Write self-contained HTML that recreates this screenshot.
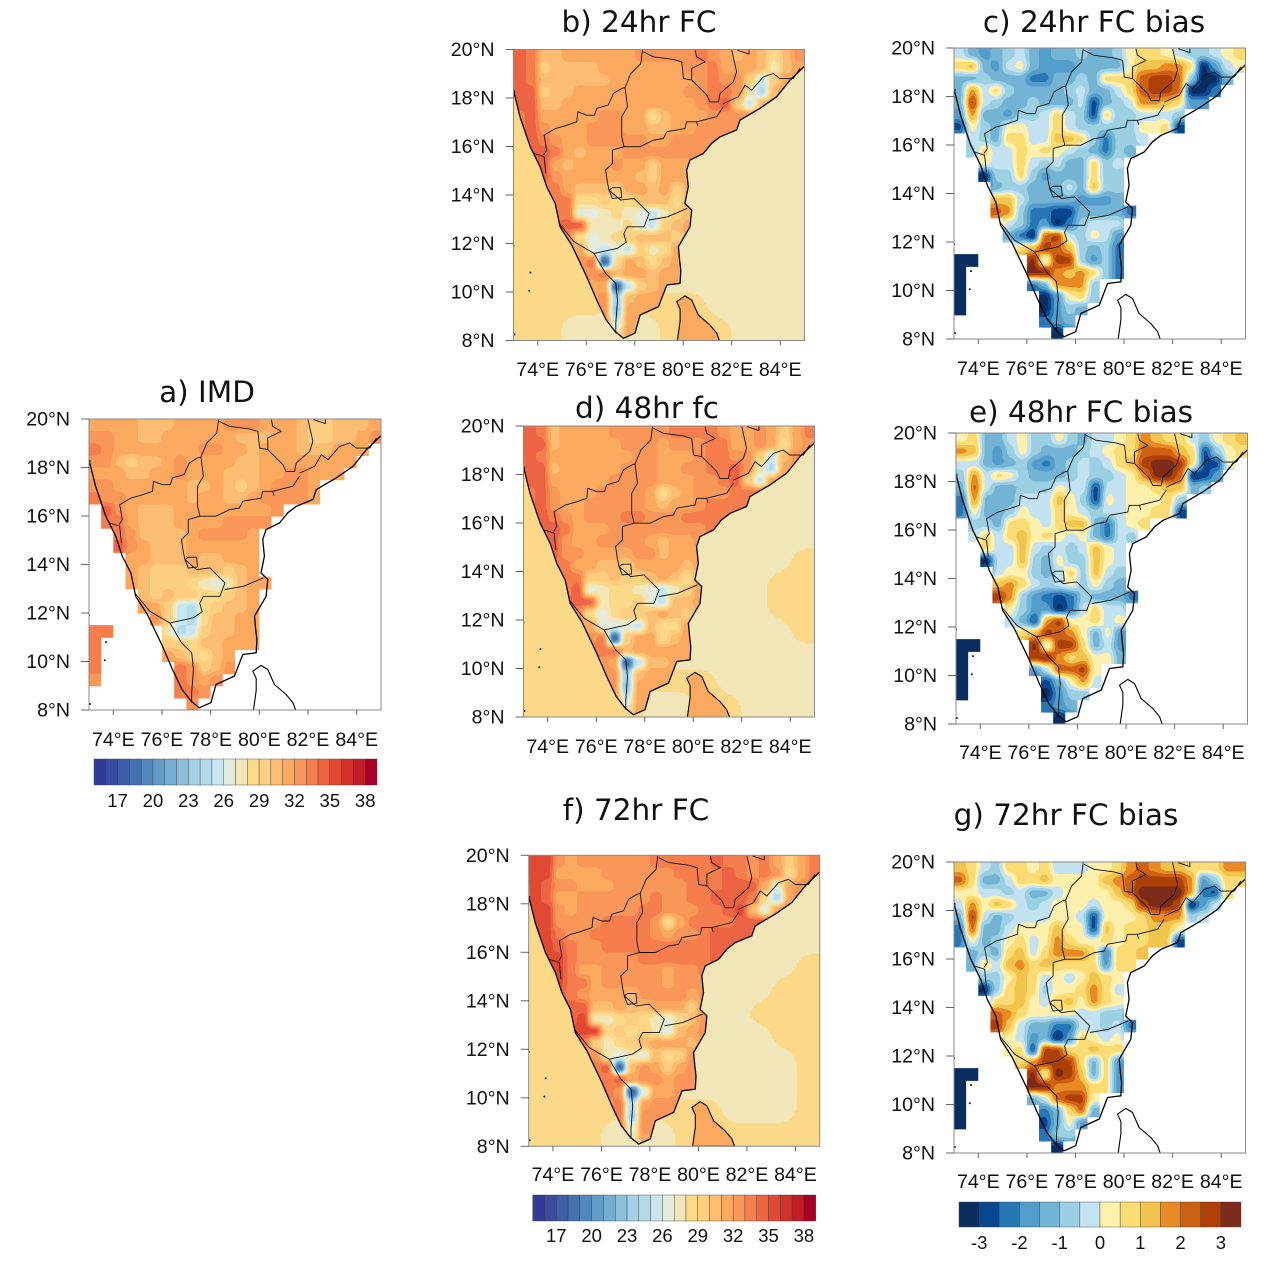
<!DOCTYPE html>
<html lang="en">
<head>
<meta charset="utf-8">
<title>South India temperature maps</title>
<style>
html,body{margin:0;padding:0;background:#fff;width:1280px;height:1265px;overflow:hidden}
svg{display:block}
text{font-family:"Liberation Sans",sans-serif;fill:#111}
.title{font-family:"DejaVu Sans",sans-serif;font-size:29.5px;text-anchor:middle}
</style>
</head>
<body>
<svg id="figure" xmlns="http://www.w3.org/2000/svg" width="1280" height="1265" viewBox="0 0 1280 1265"></svg>
<script>
// ---------- tick labels ----------
const latTicks = [8,10,12,14,16,18,20];
const lonTicks = [74,76,78,80,82,84];
const tempTicks = [17,20,23,26,29,32,35,38];
const biasTicks = [-3,-2,-1,0,1,2,3];

// ---------- colour bars ----------
const tempColors = ["#323a97","#3a4ba0","#3e5ea9","#4672b0","#5288bd","#639cc6","#74add1","#8cbfda","#a3d1e5","#b4dbea","#c8e7f1","#e3ebdc","#f1e6b8","#fdd98a","#fdcf80","#fcbe72","#fba95f","#f99858","#f67f4d","#ee6544","#e34a33","#d3302a","#c11d27","#a80026"];
const biasColors = ["#0a2e5f","#08478f","#2777b4","#529dcc","#73b3d4","#9bcfe3","#c3e3f2","#fef0ad","#fcdc74","#f2c44e","#e98a25","#cd6112","#ae4008","#7d2b1b"];

// ---------- temperature (deg C, lower contour level), 0.5 degree cells, north to south ----------
const imdGrid = [
[31,31,31,31,30,30,30,31,31,31,31,32,32,32,31,31,31,30,29,29,30,30,30,31],
[32,32,31,31,30,30,31,31,31,31,31,31,30,30,30,31,31,30,29,29,30,30,31,32],
[33,32,31,31,31,31,31,31,31,32,32,31,31,30,31,31,31,30,30,30,31,31,31],
[32,32,30,29,30,30,31,32,31,31,31,31,30,30,31,31,31,31,31,31,31,31],
[31,31,31,30,30,31,31,32,31,31,31,30,30,30,31,31,32,32,31,31,31],
[32,32,31,31,31,31,31,31,30,30,31,30,29,30,31,32,32,32,31],
[33,32,32,31,31,31,31,31,30,31,31,30,30,31,32,32,32,32,31],
[,34,32,31,30,30,30,31,31,31,31,31,31,31,31,32],
[,33,33,31,30,30,30,31,31,31,31,32,32,32,32],
[,,33,32,30,30,30,30,31,32,32,32,32,31],
[,,34,32,31,30,30,30,31,31,31,31,31,31],
[,,,31,31,30,30,30,31,30,30,31,31,31],
[,,,31,30,29,29,29,30,30,30,29,30,31],
[,,,31,30,29,29,29,28,27,26,27,30,31,31],
[,,,,30,29,30,29,29,28,28,29,30,31],
[,,,,31,31,29,25,24,28,29,30,30,31],
[,,,,,32,29,25,24,28,30,30,31,31],
[33,33,,,,,27,24,25,29,30,30,31,31],
[33,,,,,,29,29,28,30,30,31,31,31],
[33,,,,,,31,30,28,28,30,31],
[33,,,,,,,33,32,29,30,32],
[32,,,,,,,33,32,31,32],
[,,,,,,,33,33,32],
[,,,,,,,,32]
];
const fc24Grid = [
[34,33,30,30,31,31,31,31,31,31,32,32,32,32,32,33,32,31,30,31,30,28,30,32],
[34,33,29,30,30,30,30,31,31,31,31,31,31,31,32,32,33,31,31,31,30,27,30,31],
[34,33,30,30,30,30,30,30,31,31,31,31,31,31,31,32,33,32,32,29,25,29,31,31],
[34,34,29,30,30,31,31,31,31,31,31,31,31,31,32,32,33,33,32,27,24,30,32],
[34,34,30,30,31,31,31,31,31,31,31,31,31,31,31,32,33,34,29,25,30,31],
[33,34,31,31,31,31,31,32,32,31,31,28,30,31,31,31,32,32,32,32],
[33,34,32,31,31,31,32,32,32,31,31,30,30,31,31,32,32,32,32],
[,34,33,32,31,31,32,32,32,32,32,31,31,32,32,32,32,32],
[,34,34,33,31,30,31,31,31,32,32,32,32,32,32,32],
[,34,34,31,30,31,31,31,32,31,31,29,31,31,31],
[,,34,32,31,31,31,31,31,31,30,29,31,31,31],
[,,33,33,31,30,30,30,29,31,31,30,31,29,31],
[,,,33,33,28,28,29,28,28,30,30,30,28,31],
[,,,33,33,26,26,27,28,27,26,25,27,29,30],
[,,,,34,34,27,27,27,28,26,25,29,30,31],
[,,,,32,28,26,27,28,29,30,30,30,29,31],
[,,,,,31,26,25,26,25,29,27,28,31,31],
[,,,,,,33,17,28,31,30,28,30,31,31],
[,,,,,,32,33,30,31,31,30,31,31],
[,,,,,,31,31,17,25,29,30,31,31],
[,,,,,,31,32,23,30,31,31,31],
[,,,,,,,32,22,31,31,31],
[,,,,,,,32,25,31,31,31],
[,,,,,,,,27,31,31]
];
const fc48Grid = [
[34,33,30,31,31,31,31,32,32,32,32,32,33,33,33,33,32,31,31,32,31,29,31,33],
[34,34,30,31,31,31,31,31,32,32,32,31,32,32,32,33,33,31,31,32,31,28,31,32],
[34,33,31,31,31,31,31,31,31,32,32,31,31,31,32,33,33,32,32,29,25,30,32,32],
[34,34,30,31,31,31,31,31,32,32,32,31,31,32,32,33,33,34,32,27,24,31,32],
[34,34,31,31,31,31,31,32,32,32,32,31,31,31,32,32,33,34,29,25,31,32],
[33,34,32,31,31,31,32,32,32,32,31,28,30,31,32,32,32,33,33,33],
[33,34,32,31,31,32,32,32,32,32,31,30,31,31,32,33,33,33,33],
[,34,33,32,31,32,32,32,33,33,32,32,32,33,33,33,33,33],
[,34,34,33,31,31,31,32,32,32,32,32,32,32,32,33],
[,34,34,32,31,31,32,32,32,32,31,30,31,31,32],
[,,34,32,32,31,31,31,31,32,32,30,31,31,31],
[,,33,33,31,31,30,30,29,31,31,31,31,30,31],
[,,,33,33,29,29,30,29,29,30,31,30,28,31],
[,,,33,34,26,27,28,28,27,26,25,27,29,31],
[,,,,34,34,27,28,28,29,26,25,30,30,31],
[,,,,32,28,26,28,29,29,30,31,30,29,31],
[,,,,,31,26,26,26,25,30,28,28,31,31],
[,,,,,,33,17,29,31,31,28,30,31,31],
[,,,,,,33,33,30,31,31,31,31,31],
[,,,,,,32,31,17,25,30,30,31,31],
[,,,,,,32,32,23,30,31,31,31],
[,,,,,,,32,22,31,31,31],
[,,,,,,,32,25,31,31,31],
[,,,,,,,,27,31,31]
];
const fc72Grid = [
[35,35,32,31,32,32,32,32,32,32,33,33,33,33,33,34,33,33,32,33,31,29,31,33],
[35,35,31,31,31,31,32,32,32,32,32,32,33,33,33,33,34,33,32,33,32,28,31,33],
[35,34,32,32,31,31,31,32,32,32,32,32,32,33,33,33,34,34,34,31,26,31,32,33],
[35,34,31,31,32,32,32,32,32,32,33,32,32,33,33,34,34,34,33,28,24,31,33],
[35,35,32,31,32,32,32,32,32,33,33,32,32,32,33,33,34,35,30,26,31,33],
[35,35,32,32,32,32,33,33,33,33,32,28,31,33,33,33,33,34,34,34],
[35,35,33,32,32,33,33,33,33,33,32,31,32,32,33,34,34,34,34],
[,35,34,33,32,32,33,33,33,33,33,33,33,33,33,34,34,34],
[,35,35,33,32,32,32,32,32,33,33,33,33,33,33,34],
[,35,35,33,31,31,32,32,32,32,32,31,32,32,33],
[,,35,33,33,31,32,32,32,32,32,31,32,32,32],
[,,34,33,32,31,31,31,30,32,32,32,32,31,32],
[,,,34,34,30,30,31,30,30,31,31,31,29,32],
[,,,34,35,27,27,28,29,28,27,26,28,30,32],
[,,,,35,35,28,29,28,29,27,26,30,31,32],
[,,,,33,29,27,28,29,30,31,31,31,30,32],
[,,,,,32,27,26,27,26,30,28,29,32,32],
[,,,,,,34,17,30,32,31,29,31,32,32],
[,,,,,,33,34,31,32,32,31,32,32],
[,,,,,,33,32,17,26,31,31,32,32],
[,,,,,,32,33,24,31,32,32,32],
[,,,,,,,33,23,32,32,32],
[,,,,,,,33,26,32,32,31],
[,,,,,,,,27,31,31]
];

// ---------- sea surface temperature (deg C, lower contour level), 1 degree cells ----------
const fc24Sea = [
[28,28,28,28,27,27,27,27,27,27,27,27],[28,28,28,28,27,27,27,27,27,27,27,27],
[28,28,28,28,27,27,27,27,27,27,27,27],[28,28,28,28,27,27,27,27,27,27,27,27],
[28,28,28,28,27,27,27,27,27,27,27,27],[28,28,28,28,27,27,27,27,27,27,27,27],
[28,28,28,28,27,27,27,27,27,27,27,27],[28,28,28,28,27,27,27,27,27,27,27,27],
[28,28,28,28,27,27,27,27,27,27,27,27],[28,28,28,28,27,27,27,27,27,27,27,27],
[28,28,28,28,27,28,28,28,27,27,27,27],[28,28,27,27,27,27,28,28,28,27,27,27]
];
const fc48Sea = [
[28,28,28,28,27,27,27,27,27,27,27,27],[28,28,28,28,27,27,27,27,27,27,27,27],
[28,28,28,28,27,27,27,27,27,27,27,27],[28,28,28,28,27,27,27,27,27,27,27,27],
[28,28,28,28,27,27,27,27,27,27,27,27],[28,28,28,28,27,27,27,27,27,27,27,28],
[28,28,28,28,27,27,27,27,27,27,28,28],[28,28,28,28,27,27,27,27,27,27,28,28],
[28,28,28,28,27,27,27,27,27,27,27,28],[28,28,28,28,27,27,27,27,27,27,27,27],
[28,28,28,28,27,28,28,28,27,27,27,27],[28,28,28,28,28,27,27,28,28,27,27,27]
];
const fc72Sea = [
[28,28,28,28,27,27,27,27,27,27,27,27],[28,28,28,28,27,27,27,27,27,27,27,27],
[28,28,28,28,27,27,27,27,27,27,27,27],[28,28,28,28,27,27,27,27,27,27,27,27],
[28,28,28,28,27,27,27,27,27,27,27,28],[28,28,28,28,27,27,27,27,27,27,28,28],
[28,28,28,28,27,27,27,27,27,28,28,28],[28,28,28,28,27,27,27,27,27,27,28,28],
[28,28,28,28,27,27,27,27,27,27,27,28],[28,28,28,28,27,27,27,27,27,27,27,28],
[28,28,28,28,27,28,28,28,27,27,27,28],[28,28,28,27,27,27,28,28,28,28,28,28]
];
const sriLankaTemps = [31,31,31];

// ---------- bias (units of 0.5 deg C, lower contour level), 0.5 degree cells, north to south ----------
const bias24Grid = [
[-1,-3,-4,-3,-2,-1,-3,-4,-3,-3,-2,-3,-3,-2,0,1,1,0,-1,-2,-2,-1,0,1],
[1,2,-3,-4,-1,0,-3,-4,-4,-4,-3,-3,-3,-3,0,2,2,3,3,1,-7,-4,-1,0],
[-3,-3,-2,-3,-3,-3,-5,-5,-3,-3,-2,-3,1,1,1,4,5,5,4,-2,-7,-7,-3],
[-3,3,-1,1,-2,-3,-3,-3,-3,-2,-1,-3,-3,-1,1,4,5,5,4,-7,-7,-5],
[-3,5,-1,-2,-3,-3,-2,-3,-3,-3,-1,-6,-3,-2,-1,3,3,2,1,-4,-4],
[-4,3,-3,-3,-4,-2,-2,-1,1,-1,-2,-6,1,-2,-2,-1,-1,-1,-2],
[-6,0,-2,-3,0,0,-1,-1,1,-1,-2,-2,-2,-2,-2,0,0,1,-6],
[,-1,-2,-3,1,1,-1,-1,2,2,1,-2,-5,-2,-2,-1],
[,-2,1,-1,-1,1,0,1,0,-1,-2,-3,-5,-2,-3],
[,,0,-1,-1,1,-1,-2,-1,-3,-3,1,-2,-1],
[,,-7,-2,-2,1,-2,-4,-3,-3,-3,1,-2,-2],
[,,,-3,-2,-2,-3,-3,-3,-1,-3,2,-2,-2],
[,,,2,2,-1,-3,-3,-3,-3,-4,-4,-4,-3],
[,,,4,3,-2,-5,-5,-6,-6,-3,-3,-3,-3,-5],
[,,,,-1,-2,-5,-4,-7,-5,-2,-1,-1,-1],
[,,,,-3,-5,-7,4,5,-1,-2,0,-1,-4],
[,,,,,1,2,5,4,2,-2,-3,-2,-5],
[-7,-7,,,,,6,-1,5,5,-2,-4,-2,-5],
[-7,,,,,,6,6,3,2,3,1,-2,-5],
[-7,,,,,,-5,-3,3,3,3,-2],
[-7,,,,,,,-7,-4,0,1,-2],
[-7,,,,,,,-7,-4,-2,-3],
[,,,,,,,-5,-4,-3],
[,,,,,,,,-7]
];
const bias48Grid = [
[0,1,-3,-3,-1,0,-2,-2,0,-2,-3,-1,-1,0,1,3,2,1,1,-1,-2,0,1,2],
[3,2,-3,-4,-2,0,-2,-3,-3,-3,-2,-1,0,1,1,4,4,4,2,1,-6,-2,0,1],
[-1,-1,-3,-4,-3,-2,-4,-5,-3,-2,-1,-2,-1,1,2,5,6,6,5,1,-6,-6,0],
[-2,3,-1,1,0,-2,-3,-3,-3,-2,-1,-2,-2,-1,0,3,6,6,4,-7,-6,-4],
[-3,4,-1,-3,-3,-2,-2,-2,0,-1,-1,-6,-1,-1,0,0,1,2,2,-3,-2],
[-5,3,-3,-3,-3,-1,-1,-1,2,0,-2,-6,0,-1,0,0,0,1,-2],
[-5,0,-3,-3,-2,0,-1,-1,1,0,-1,-2,-1,-1,0,0,1,1,-6],
[,-2,-2,-3,1,1,0,-1,1,2,2,-3,-5,-1,0,1],
[,-1,1,-1,1,2,0,1,0,-1,0,-3,-5,-1,-2],
[,,1,-1,-1,2,-1,-2,-1,-2,-1,2,0,-1],
[,,-7,-1,-1,2,-2,-3,0,-2,-2,2,0,-1],
[,,,-1,0,0,-2,-3,-1,1,-2,2,-1,-2],
[,,,2,3,1,-1,-2,-1,0,-2,0,-2,-3],
[,,,5,3,-2,-4,-5,-6,-5,-2,-3,-3,-3,-5],
[,,,,0,-2,-4,-4,-7,-5,-1,1,-1,-1],
[,,,,-1,-3,-6,3,5,0,0,1,-1,0],
[,,,,,1,2,5,4,3,0,-3,0,-4],
[-7,-7,,,,,6,-1,5,5,1,-3,-1,-4],
[-7,,,,,,5,6,3,1,2,0,0,-3],
[-7,,,,,,-4,-1,4,4,5,0],
[-7,,,,,,,-6,-3,0,3,-1],
[-7,,,,,,,-7,-4,-2,-2],
[,,,,,,,-5,-4,-3],
[,,,,,,,,-7]
];
const bias72Grid = [
[2,1,-1,-2,1,1,0,1,-1,-1,-1,0,0,1,3,4,3,2,2,1,1,1,3,3],
[4,1,-3,-3,-1,1,1,2,0,0,0,0,2,3,4,5,5,5,5,3,-4,-2,1,1],
[0,0,-1,-1,-2,-1,-3,-3,-1,0,0,0,0,2,4,6,6,6,6,3,-5,-6,1],
[-1,3,0,2,1,-1,-2,-1,0,0,0,-1,0,0,1,5,6,6,5,-7,-4,-1],
[-3,5,-1,-3,-2,-1,-1,-1,0,0,-1,-6,0,0,0,1,3,3,3,-2,-1],
[-5,4,-3,-3,-1,0,0,0,2,0,0,-6,2,0,1,1,2,2,0],
[-5,0,-3,-2,0,1,-1,0,3,1,0,0,1,0,1,1,2,2,-6],
[,-3,-2,-3,1,2,-1,1,3,3,3,1,-5,1,1,2],
[,-3,1,-1,2,3,1,2,1,1,1,1,-4,1,1],
[,,-2,-2,0,2,1,-1,0,-1,0,2,1,0],
[,,-7,-2,1,2,1,-2,0,0,1,3,1,-1],
[,,,1,1,2,0,-1,1,2,0,3,1,0],
[,,,4,3,1,0,0,0,0,-1,-1,-2,-2],
[,,,5,2,-1,-3,-3,-5,-5,-1,-1,-2,-1,-5],
[,,,,0,-1,-4,-3,-7,-4,1,0,-1,0],
[,,,,0,1,-6,5,5,1,1,2,1,1],
[,,,,,1,3,5,5,5,1,-3,1,-4],
[-7,-7,,,,,6,0,6,5,2,-3,1,-4],
[-7,,,,,,6,6,3,3,3,1,1,-4],
[-7,,,,,,-3,-1,4,5,5,0],
[-7,,,,,,,-5,-3,1,4,-3],
[-7,,,,,,,-6,-3,0,-4],
[,,,,,,,-5,-2,-2],
[,,,,,,,,-7]
];

// ---------- geography (lon, lat) ----------
const coastLine = [[73.03,18.32],[73.03,18.19],[73.27,17.23],[73.69,15.99],[74.1,15.16],[74.37,14.34],[74.72,13.65],[74.92,12.69],[75.4,11.94],[76.02,10.63],[76.43,9.67],[76.82,8.85],[77.19,8.37],[77.53,8.09],[78.01,8.3],[78.22,9.05],[78.98,9.4],[79.32,10.29],[79.87,10.36],[79.9,10.9],[79.85,11.32],[79.8,11.87],[80.28,12.69],[80.35,13.38],[80.07,13.65],[80.21,14.34],[80.14,15.03],[80.28,15.44],[80.83,15.71],[81.17,16.13],[81.52,16.4],[82.2,16.68],[82.34,17.09],[83.16,17.57],[83.85,18.05],[84.4,18.74],[85,19.31]];
const sriLanka = [[79.76,8],[79.87,8.8],[79.87,9.3],[79.73,9.6],[80.07,9.84],[80.35,9.67],[80.62,9.05],[81.1,8.64],[81.38,8.3],[81.49,8]];
const stateBorders = [
[[74.24,15.65],[74.37,15.85],[74.26,16.47],[74.72,16.74],[75.09,16.84],[75.61,17.02],[75.65,17.43],[76.02,17.29],[76.34,17.29],[76.43,17.57],[76.91,17.71],[77.12,18.19],[77.46,18.39],[77.6,18.43]],
[[77.6,18.43],[77.84,19.01],[78.25,19.42],[78.32,19.97]],
[[77.6,18.43],[77.7,17.64],[77.46,17.23],[77.46,16.4],[77.56,15.99],[77.08,15.85],[77.08,15.3],[76.8,15.03],[76.87,14.55],[76.94,14.2],[77.42,13.79],[77.97,13.86],[78.59,13.24],[78.38,12.69],[77.7,12.69],[77.55,12.4],[77.65,12.05],[77.29,11.8],[76.32,11.59],[76.8,10.77],[77.22,10.36],[77.29,9.67],[77.22,8.71],[77.22,8.3]],
[[77.53,15.99],[78.22,15.99],[78.77,16.26],[79.18,16.33],[79.32,16.61],[80.07,16.74],[80.14,17.02],[80.55,17.02],[80.6,16.85],[80.55,17.02],[81.38,17.23],[81.65,17.64]],
[[78.59,12.97],[79.35,13.1],[80.17,13.45]],
[[81.65,17.77],[82.27,18.05],[82.55,18.53],[82.82,18.32],[83.3,18.87],[83.71,19.01],[83.99,18.8],[84.54,18.8],[84.81,19.22]],
[[78.36,19.9],[78.77,19.7],[79.59,19.59],[79.94,19.49],[80.01,18.8],[80.35,18.74],[80.97,18.12],[81.1,17.84],[81.45,17.84],[81.52,18.19],[82.07,18.67],[82.2,19.08],[82,19.97]],
[[80.49,19.97],[80.55,19.7],[80.9,19.49],[80.35,19.22],[80.35,18.74]],
[[82.23,19.97],[82.71,19.81],[82.71,20]],
[[74.88,12.83],[75.5,12.07],[76.32,11.59]],
[[73.85,15.71],[74.26,15.58],[74.33,14.89]],
[[76.94,14.2],[77.08,14.3],[77.42,14.3],[77.46,13.9],[77.08,13.85],[76.94,14.2]]
];
const islands = [[73.7,10.8],[73.65,10.05],[73.04,8.25],[73,11.9]];

// ---------- panel layout ----------
const panels = [
 {key:"imd",title:"a) IMD",tx:207,ty:402,x:89,y:419,w:292,h:291,xl:746,grid:imdGrid,kind:"temp",mask:"cells"},
 {key:"fc24",title:"b) 24hr FC",tx:639,ty:32,x:513.5,y:49.5,w:291,h:291,xl:376,grid:fc24Grid,sea:fc24Sea,lanka:0,kind:"temp",mask:"coast"},
 {key:"bias24",title:"c) 24hr FC bias",tx:1094,ty:32,x:954,y:48,w:291.5,h:291,xl:375,grid:bias24Grid,kind:"bias",mask:"cells"},
 {key:"fc48",title:"d) 48hr fc",tx:647,ty:418,x:523.5,y:426,w:291,h:291,xl:753,grid:fc48Grid,sea:fc48Sea,lanka:1,kind:"temp",mask:"coast"},
 {key:"bias48",title:"e) 48hr FC bias",tx:1081,ty:422,x:956,y:433,w:291.5,h:291,xl:759,grid:bias48Grid,kind:"bias",mask:"cells"},
 {key:"fc72",title:"f) 72hr FC",tx:636,ty:820,x:528.7,y:855.3,w:291,h:291,xl:1181,grid:fc72Grid,sea:fc72Sea,lanka:2,kind:"temp",mask:"coast"},
 {key:"bias72",title:"g) 72hr FC bias",tx:1066,ty:825,x:954,y:862,w:291.5,h:291,xl:1188,grid:bias72Grid,kind:"bias",mask:"cells"}
];
const colorbars = [
 {key:"imd",kind:"temp",x:94,y:759,w:283,h:26,ly:807},
 {key:"fc72",kind:"temp",x:532.7,y:1195,w:283,h:26,ly:1242},
 {key:"bias72",kind:"bias",x:959,y:1202,w:282,h:25,ly:1249}
];

// ---------- scales ----------
const NS = "http://www.w3.org/2000/svg";
const svg = document.getElementById("figure");
function el(tag, attrs, parent){
  const e = document.createElementNS(NS, tag);
  for (const k in attrs) e.setAttribute(k, attrs[k]);
  (parent || svg).appendChild(e);
  return e;
}
const xOf = (p, lon) => p.x + (lon - 73) / 12 * p.w;
const yOf = (p, lat) => p.y + (20 - lat) / 12 * p.h;
const bandCount = kind => kind === "temp" ? tempColors.length : biasColors.length;
const bandOf = (kind, v) => kind === "temp" ? v - 15 : v + 7;
const grayOf = (kind, v) => {
  const g = Math.round((bandOf(kind, v) + 0.5) / bandCount(kind) * 255);
  return "rgb(" + g + "," + g + "," + g + ")";
};
const pathOf = (p, pts) => pts.map((q, i) => (i ? "L" : "M") + xOf(p, q[0]).toFixed(1) + " " + yOf(p, q[1]).toFixed(1)).join("");

// ---------- contour band filters: blur a value raster, then quantise to the palette ----------
const defs = el("defs", {});
function bandFilter(id, colors, blur){
  const f = el("filter", {id:id, x:"0", y:"0", width:"1", height:"1", "color-interpolation-filters":"sRGB"}, defs);
  el("feGaussianBlur", {stdDeviation:blur}, f);
  const ct = el("feComponentTransfer", {}, f);
  const chan = i => colors.map(c => (parseInt(c.substr(1 + i * 2, 2), 16) / 255).toFixed(3)).join(" ");
  el("feFuncR", {type:"discrete", tableValues:chan(0)}, ct);
  el("feFuncG", {type:"discrete", tableValues:chan(1)}, ct);
  el("feFuncB", {type:"discrete", tableValues:chan(2)}, ct);
}
bandFilter("bandTemp", tempColors, 3);
bandFilter("bandSea", tempColors, 9);
bandFilter("bandBias", biasColors, 3.5);

// Extend values into empty cells so the blur has something to work with at mask edges.
function filledCopy(grid, n){
  const out = [];
  for (let r = 0; r < n; r++){ out.push([]); for (let c = 0; c < n; c++){ const v = grid[r] ? grid[r][c] : undefined; out[r].push(v === undefined ? null : v); } }
  for (let pass = 0; pass < 60; pass++){
    let missing = 0;
    const snap = out.map(a => a.slice());
    for (let r = 0; r < n; r++) for (let c = 0; c < n; c++){
      if (snap[r][c] !== null) continue;
      let s = 0, k = 0;
      [[1,0],[-1,0],[0,1],[0,-1]].forEach(d => {
        const a = snap[r + d[0]], b = a ? a[c + d[1]] : undefined;
        if (b !== undefined && b !== null){ s += b; k++; }
      });
      if (k) out[r][c] = s / k; else missing++;
    }
    if (!missing) break;
  }
  return out;
}
function drawField(p, grid, n, kind, filterId, parent){
  const cw = p.w / n, ch = p.h / n, full = filledCopy(grid, n);
  const g = el("g", {filter:"url(#" + filterId + ")", "shape-rendering":"crispEdges"}, parent);
  for (let r = -2; r < n + 2; r++) for (let c = -2; c < n + 2; c++){
    const rr = Math.max(0, Math.min(n - 1, r)), cc = Math.max(0, Math.min(n - 1, c));
    const rect = el("rect", {x:(p.x + c * cw).toFixed(2), y:(p.y + r * ch).toFixed(2), width:(cw + .5).toFixed(2), height:(ch + .5).toFixed(2), fill:grayOf(kind, full[rr][cc])}, g);
    
    
  }
}

// ---------- panels ----------
panels.forEach(p => {
  const group = el("g", {});
  
  

  const title = el("text", {x:p.tx, y:p.ty, class:"title"}, group);
  title.textContent = p.title;
  
  

  const frameClip = el("clipPath", {id:"frame-" + p.key}, defs);
  el("rect", {x:p.x, y:p.y, width:p.w, height:p.h}, frameClip);
  const plot = el("g", {"clip-path":"url(#frame-" + p.key + ")"}, group);
  
  
  el("rect", {x:p.x, y:p.y, width:p.w, height:p.h, fill:"#fff"}, plot);

  if (p.sea) drawField(p, p.sea, 12, "temp", "bandSea", plot);

  const maskClip = el("clipPath", {id:"mask-" + p.key}, defs);
  if (p.mask === "coast"){
    el("path", {d:pathOf(p, [[73,20]].concat(coastLine, [[85,20]])) + "Z"}, maskClip);
  } else {
    const cw = p.w / 24, ch = p.h / 24;
    let d = "";
    p.grid.forEach((row, r) => {
      let c = 0;
      while (c < 24){
        if (row[c] === undefined){ c++; continue; }
        let e = c;
        while (e + 1 < 24 && row[e + 1] !== undefined) e++;
        const x0 = (p.x + c * cw).toFixed(2), x1 = (p.x + (e + 1) * cw).toFixed(2);
        const y0 = (p.y + r * ch).toFixed(2), y1 = (p.y + (r + 1) * ch + .6).toFixed(2);
        d += "M" + x0 + " " + y0 + "L" + x1 + " " + y0 + "L" + x1 + " " + y1 + "L" + x0 + " " + y1 + "Z";
        c = e + 1;
      }
    });
    el("path", {d:d, "shape-rendering":"crispEdges"}, maskClip);
  }
  const masked = el("g", {"clip-path":"url(#mask-" + p.key + ")"}, plot);
  drawField(p, p.grid, 24, p.kind, p.kind === "temp" ? "bandTemp" : "bandBias", masked);

  const lankaShape = el("path", {d:pathOf(p, sriLanka) + (p.sea ? "Z" : ""), fill:p.sea ? tempColors[bandOf("temp", sriLankaTemps[p.lanka])] : "none", stroke:"#000", "stroke-width":"1.1", "stroke-linejoin":"round"}, plot);
  
  

  stateBorders.forEach(b => {
    const line = el("path", {d:pathOf(p, b), fill:"none", stroke:"#111", "stroke-width":"0.9", "stroke-linejoin":"round"}, plot);
    
    
  });
  const coast = el("path", {d:pathOf(p, coastLine), fill:"none", stroke:"#000", "stroke-width":"1.3", "stroke-linejoin":"round"}, plot);
  
  
  islands.forEach(q => {
    const dot = el("circle", {cx:xOf(p, q[0]), cy:yOf(p, q[1]), r:"1", fill:"#111"}, plot);
    
    
  });

  const frame = el("rect", {x:p.x, y:p.y, width:p.w, height:p.h, fill:"none", stroke:"#8a8a8a", "stroke-width":"1"}, group);
  
  

  latTicks.forEach(lat => {
    const y = yOf(p, lat);
    const tick = el("line", {x1:p.x - 8, x2:p.x, y1:y, y2:y, stroke:"#666", "stroke-width":"1"}, group);
    
    
    const label = el("text", {x:p.x - 19, y:y + 6.5, "text-anchor":"end", "font-size":"19.6"}, group);
    label.textContent = lat + "°N";
    
    
  });
  lonTicks.forEach(lon => {
    const x = xOf(p, lon);
    const tick = el("line", {x1:x, x2:x, y1:p.y + p.h, y2:p.y + p.h + 5, stroke:"#666", "stroke-width":"1"}, group);
    
    
    const label = el("text", {x:x, y:p.xl, "text-anchor":"middle", "font-size":"19.6"}, group);
    label.textContent = lon + "°E";
    
    
  });
});

// ---------- colour bars ----------
colorbars.forEach(b => {
  const colors = b.kind === "temp" ? tempColors : biasColors;
  const ticks = b.kind === "temp" ? tempTicks : biasTicks;
  const bw = b.w / colors.length;
  const group = el("g", {});
  
  
  colors.forEach((c, i) => {
    const box = el("rect", {x:b.x + i * bw, y:b.y, width:bw, height:b.h, fill:c, stroke:"#3a3a3a", "stroke-width":"0.4"}, group);
    
    
  });
  ticks.forEach(t => {
    const edge = b.kind === "temp" ? t - 15 : (t + 3.5) / 0.5;
    const label = el("text", {x:b.x + edge * bw, y:b.ly, "text-anchor":"middle", "font-size":"18.5"}, group);
    label.textContent = String(t);
    
    
  });
});
</script>
</body>
</html>
